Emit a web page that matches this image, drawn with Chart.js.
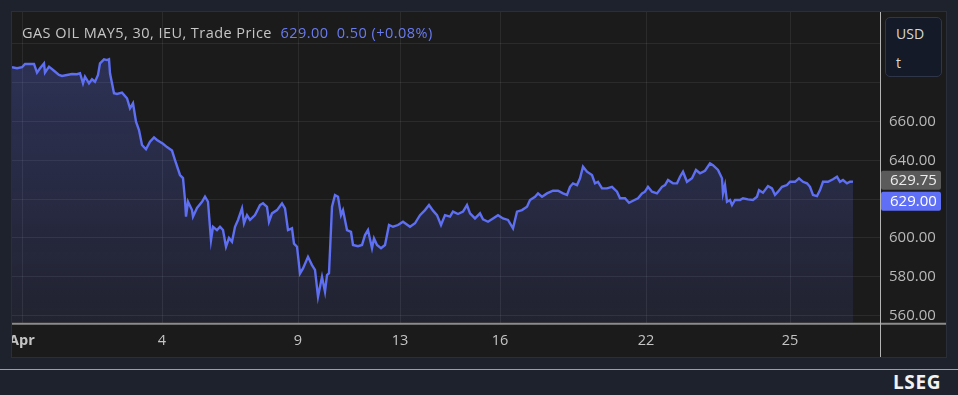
<!DOCTYPE html>
<html>
<head>
<meta charset="utf-8">
<script src="https://cdn.jsdelivr.net/npm/chart.js@4/dist/chart.umd.min.js"></script>
<style>
  html, body { margin: 0; padding: 0; }
  body { width: 958px; height: 395px; background: #1e222d; position: relative; overflow: hidden; font-family: "Open Sans", sans-serif; }
  #panel { position: absolute; left: 12px; top: 12px; width: 934px; height: 345px; background: #1b1b1b; box-shadow: 0 0 0 1px #2a2e39; }
  #panel canvas { position: absolute; left: 0; top: 0; }
  #title { position: absolute; left: 22px; top: 23px; font-size: 14.5px; letter-spacing: 0.45px; line-height: 19px; color: #c6c6c6; white-space: pre; }
  #title .px { color: #6a7bf0; }
  #unit { position: absolute; left: 885px; top: 17px; width: 57px; height: 60px; box-sizing: border-box; border: 1px solid #30364a; border-radius: 5px; background: #141a27; color: #d8d8d8; font-size: 14px; }
  #unit span { position: absolute; left: 10px; }
  #footer { position: absolute; left: 0; top: 369px; width: 958px; height: 1px; background: #9aa0aa; }
  #brand { position: absolute; left: 893px; top: 369px; font-size: 19px; font-weight: bold; color: #f2f2f2; letter-spacing: 0.6px; }
</style>
</head>
<body>
<div id="panel"><canvas id="chart" width="934" height="345"></canvas></div>
<div id="title">GAS OIL MAY5, 30, IEU, Trade Price  <span class="px">629.00  0.50 (+0.08%)</span></div>
<div id="unit"><span style="top:6px">USD</span><span style="top:35px">t</span></div>
<div id="footer"></div>
<div id="brand">LSEG</div>
<script>
// 30-minute bar index (from the first bar on Apr 1) and trade price
const bars = [
  0, 5, 10, 13, 18, 22, 25, 28, 32, 33, 37, 42, 47, 50, 55, 60, 65, 68, 71, 73,
  77, 80, 83, 86, 88, 92, 95, 97, 98, 102, 105, 110, 115, 118, 121, 124, 127, 130, 134, 138,
  142, 145, 151, 155, 160, 163, 168, 171, 173, 174, 176, 180, 181, 185, 190, 193, 196, 199, 201, 205,
  208, 211, 214, 217, 220, 223, 226, 230, 232, 235, 238, 243, 248, 251, 255, 257, 260, 265, 270, 273,
  276, 280, 282, 285, 288, 291, 296, 300, 303, 306, 310, 313, 315, 317, 320, 323, 326, 329, 331, 335,
  339, 341, 346, 350, 353, 356, 360, 362, 365, 369, 373, 377, 381, 386, 391, 398, 403, 408, 413, 417,
  421, 425, 429, 433, 438, 441, 446, 451, 455, 458, 463, 468, 471, 476, 481, 486, 491, 496, 501, 505,
  510, 515, 518, 523, 526, 530, 535, 541, 546, 551, 555, 558, 561, 565, 568, 571, 575, 580, 583, 586,
  590, 595, 600, 605, 608, 613, 617, 621, 626, 630, 633, 636, 640, 645, 650, 653, 656, 661, 665, 668,
  671, 675, 680, 684, 688, 693, 698, 701, 706, 710, 711, 713, 715, 718, 720, 723, 728, 731, 736, 741,
  745, 747, 751, 756, 760, 763, 766, 770, 775, 778, 783, 787, 791, 795, 798, 801, 805, 808, 811, 816,
  821, 825, 828, 831, 835, 838, 841
];
const prices = [
  688.0, 687.5, 688.0, 689.7, 689.7, 689.7, 685.2, 687.5, 690.0, 685.2, 688.3, 686.2, 684.0, 683.5, 684.0, 684.5, 684.4, 684.9, 679.7, 683.1,
  679.7, 681.8, 680.5, 684.0, 690.0, 692.1, 691.7, 692.1, 684.9, 674.6, 674.2, 674.9, 672.0, 666.8, 669.4, 659.9, 655.6, 647.9, 645.7, 649.6,
  651.8, 650.5, 648.5, 646.8, 645.0, 640.1, 632.4, 630.8, 619.5, 610.9, 618.6, 614.3, 610.9, 615.4, 618.6, 621.2, 618.6, 598.8, 605.7, 604.0,
  605.7, 604.0, 595.4, 599.9, 598.0, 605.7, 609.2, 615.2, 607.5, 611.7, 609.2, 611.7, 616.9, 617.8, 616.0, 608.3, 612.6, 614.3, 617.8, 615.2,
  604.0, 604.9, 597.0, 595.4, 581.6, 584.2, 590.2, 585.9, 583.4, 569.6, 579.9, 572.2, 580.8, 581.7, 616.0, 622.1, 621.2, 611.7, 614.3, 604.0,
  603.1, 596.3, 595.7, 596.3, 601.4, 604.0, 594.6, 599.7, 596.3, 594.6, 596.3, 606.6, 605.7, 606.6, 608.3, 605.7, 607.5, 611.7, 614.3, 616.9,
  614.0, 611.7, 606.6, 611.7, 610.9, 613.5, 612.3, 613.5, 616.9, 612.6, 610.0, 612.6, 609.5, 608.3, 610.0, 611.7, 610.0, 609.2, 604.9, 613.5,
  614.3, 616.0, 619.5, 621.2, 622.9, 621.2, 622.9, 624.3, 624.3, 622.9, 622.1, 626.3, 628.1, 627.2, 630.7, 636.7, 634.1, 632.4, 628.1, 628.9,
  625.5, 625.5, 626.3, 623.8, 620.4, 620.4, 618.1, 619.1, 620.4, 622.9, 623.8, 626.3, 623.8, 622.9, 626.3, 627.2, 629.8, 628.1, 628.1, 631.5,
  634.1, 628.9, 630.7, 635.0, 633.3, 634.6, 638.4, 637.5, 635.0, 630.7, 622.9, 627.2, 618.6, 619.5, 616.9, 619.5, 619.5, 620.4, 619.8, 619.5,
  621.2, 624.6, 623.3, 626.7, 625.5, 622.1, 623.8, 626.3, 627.2, 628.9, 628.9, 630.7, 628.9, 628.1, 626.3, 622.1, 621.5, 624.6, 628.9, 628.9,
  630.2, 631.5, 628.9, 629.8, 628.1, 628.9, 629.0
];

// date labels and the bar index where each one sits
const dateLabels = ['Apr', '4', '9', '13', '16', '22', '25'];
const dateBars = [10, 150, 286, 388, 488, 634, 778];

const yLabelled = [560, 580, 600, 640, 660];
const lastPrice = 629.00;
const closePrice = 629.75;

const priceTags = {
  id: 'priceTags',
  afterDraw(chart) {
    const { ctx, chartArea, scales } = chart;
    const w = chart.width, h = chart.height;
    ctx.save();
    // x axis line
    ctx.strokeStyle = '#8c8c8c';
    ctx.lineWidth = 2;
    ctx.beginPath();
    ctx.moveTo(chartArea.left, chartArea.bottom + 1);
    ctx.lineTo(w, chartArea.bottom + 1);
    ctx.stroke();
    // price scale separator
    ctx.strokeStyle = '#b4b4b4';
    ctx.lineWidth = 1;
    ctx.beginPath();
    ctx.moveTo(chartArea.right + 0.5, 0);
    ctx.lineTo(chartArea.right + 0.5, h);
    ctx.stroke();

    ctx.font = '15px "Open Sans"';
    ctx.textBaseline = 'middle';
    const x0 = chartArea.right + 1, bw = 60, bh = 19;
    const yc = scales.y.getPixelForValue(closePrice);
    ctx.fillStyle = '#5a5a5a';
    ctx.beginPath(); ctx.roundRect(x0, yc - bh / 2, bw, bh, 2); ctx.fill();
    ctx.fillStyle = '#ececec';
    ctx.fillText(closePrice.toFixed(2), chartArea.right + 10, yc + 1);

    const yl = yc + bh / 2 + 2 + bh / 2;
    ctx.fillStyle = '#5f6ff6';
    ctx.beginPath(); ctx.roundRect(x0, yl - bh / 2, bw, bh, 2); ctx.fill();
    ctx.fillStyle = '#ffffff';
    ctx.fillText(lastPrice.toFixed(2), chartArea.right + 10, yl + 1);
    ctx.restore();
  }
};

const ctx = document.getElementById('chart').getContext('2d');
const fillGrad = ctx.createLinearGradient(0, 45, 0, 311);
fillGrad.addColorStop(0, 'rgba(94, 111, 242, 0.27)');
fillGrad.addColorStop(1, 'rgba(94, 111, 242, 0.10)');

new Chart(ctx, {
  type: 'line',
  data: {
    datasets: [{
      data: bars.map((b, i) => ({ x: b, y: prices[i] })),
      borderColor: '#5e6ff2',
      borderWidth: 2.4,
      backgroundColor: fillGrad,
      fill: 'start',
      pointRadius: 0,
      tension: 0
    }]
  },
  options: {
    responsive: false,
    animation: false,
    layout: { padding: 0 },
    plugins: { legend: { display: false }, tooltip: { enabled: false } },
    scales: {
      x: {
        type: 'linear',
        min: 0,
        max: 868,
        afterBuildTicks: (scale) => { scale.ticks = dateBars.map(v => ({ value: v })); },
        afterFit: (scale) => { scale.height = 34.3; scale.paddingLeft = 0; scale.paddingRight = 0; },
        grid: { color: 'rgba(255,255,255,0.075)', drawTicks: false },
        border: { display: false },
        ticks: {
          autoSkip: false,
          maxRotation: 0,
          padding: 9,
          color: '#c4c4c4',
          font: (c) => ({ family: 'Open Sans', size: 14.5, weight: c.index === 0 ? 'bold' : 'normal' }),
          callback: (v) => dateLabels[dateBars.indexOf(v)]
        }
      },
      y: {
        position: 'right',
        min: 556.2,
        max: 716.5,
        afterBuildTicks: (scale) => {
          const t = [];
          for (let v = 560; v <= 700; v += 20) t.push({ value: v });
          scale.ticks = t;
        },
        afterFit: (scale) => { scale.width = 66; scale.paddingTop = 0; scale.paddingBottom = 0; },
        grid: { color: 'rgba(255,255,255,0.075)', drawTicks: false },
        border: { display: false },
        ticks: {
          padding: 9,
          color: '#b9b9b9',
          font: { family: 'Open Sans', size: 15 },
          callback: (v) => yLabelled.includes(v) ? v.toFixed(2) : ''
        }
      }
    }
  },
  plugins: [priceTags]
});
</script>
</body>
</html>
